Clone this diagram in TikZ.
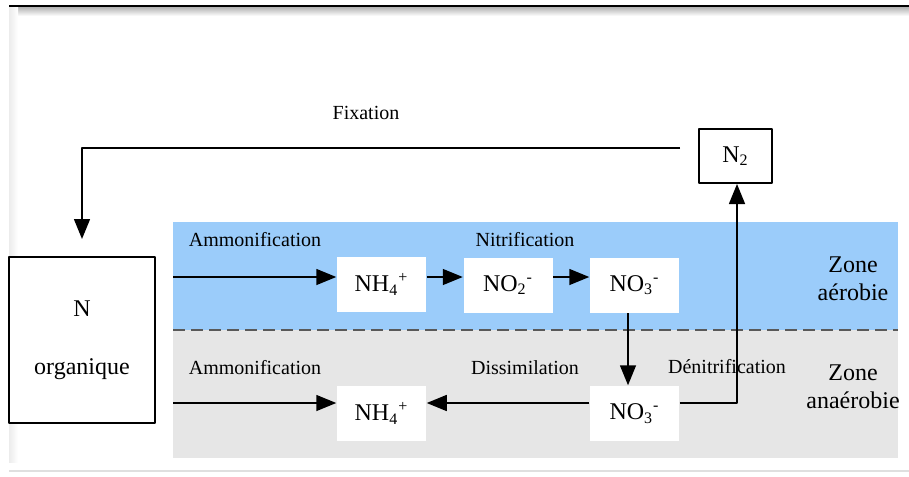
\documentclass[tikz,border=0pt]{standalone}
\usepackage{fontspec}
\setmainfont{Liberation Serif}
\usetikzlibrary{arrows.meta}
\definecolor{aerob}{RGB}{155,204,250}
\definecolor{anaerob}{RGB}{230,230,230}
\tikzset{
	espece/.style={fill=white,minimum width=44.5pt,minimum height=27.5pt,inner sep=0pt,font=\large},
	boite/.style={draw,line width=1pt,fill=white,inner sep=0pt,font=\large},
	zone/.style={align=center,font=\large}
}
\begin{document}
\begin{tikzpicture}[x=0.5pt,y=-0.5pt,line join=round,>={Triangle[length=10pt,width=8pt]},line width=0.75pt]
	\def \bandL{173}
	\def \bandR{898}
	\useasboundingbox (0,0) rectangle (909,476);
	% cadre
	\shade[top color=gray!60,bottom color=white] (9,7) rectangle (909,16);
	\shade[left color=gray!15,right color=white] (9,7) rectangle (18,462);
	\draw[line width=1.2pt] (9,6) -- (909,6);
	\draw[gray!25] (9,471) -- (909,471);
	% zones
	\fill[aerob] (\bandL,222) rectangle (\bandR,330);
	\fill[anaerob] (\bandL,330) rectangle (\bandR,458);
	\draw[dash pattern=on 6pt off 3pt,gray!70!black] (\bandL,330) -- (\bandR,330);
	% boites
	\node[boite,minimum width=73pt,minimum height=83pt,align=center] (Norg) at (82,340) {N\\[15pt]organique};
	\node[boite,minimum width=36.5pt,minimum height=27pt] (N2) at (735.5,156) {N\textsubscript{2}};
	\node[espece] (nhA) at (381.5,284.5) {NH\textsubscript{4}\textsuperscript{+}};
	\node[espece] (noiiA) at (508,285) {NO\textsubscript{2}\textsuperscript{-}};
	\node[espece] (noiiiA) at (634.5,285) {NO\textsubscript{3}\textsuperscript{-}};
	\node[espece] (noiiiB) at (634.5,413.5) {NO\textsubscript{3}\textsuperscript{-}};
	\node[espece] (nhB) at (381.5,413.5) {NH\textsubscript{4}\textsuperscript{+}};
	% etiquettes
	\node (fixation) at (366,113) {Fixation};
	\node (ammA) at (255,240) {Ammonification};
	\node (nitri) at (525,240) {Nitrification};
	\node (ammB) at (255,368) {Ammonification};
	\node (dissim) at (525,368) {Dissimilation};
	\node (denitri) at (727,367) {Dénitrification};
	\node[zone] (zaero) at (853,279) {Zone\\aérobie};
	\node[zone] (zanaero) at (853,387) {Zone\\anaérobie};
	% fleches
	\coordinate (fix) at (680,148);
	\coordinate (inA) at (\bandL,277);
	\coordinate (inB) at (\bandL,403);
	\draw[->,shorten >=8.5pt] (fix) -| (Norg.north);
	\draw[->] (inA) -- (inA -| nhA.west);
	\draw[->] (nhA.east |- inA) -- (inA -| noiiA.west);
	\draw[->] (noiiA.east |- inA) -- (inA -| noiiiA.west);
	\draw[->] ([xshift=-3.25pt]noiiiA.south) -- ([xshift=-3.25pt]noiiiB.north);
	\draw[->] (inB) -- (inB -| nhB.west);
	\draw[->] (noiiiB.west |- inB) -- (inB -| nhB.east);
	\draw[->] (noiiiB.east |- inB) -| ([xshift=0.75pt]N2.south);
\end{tikzpicture}
\end{document}
